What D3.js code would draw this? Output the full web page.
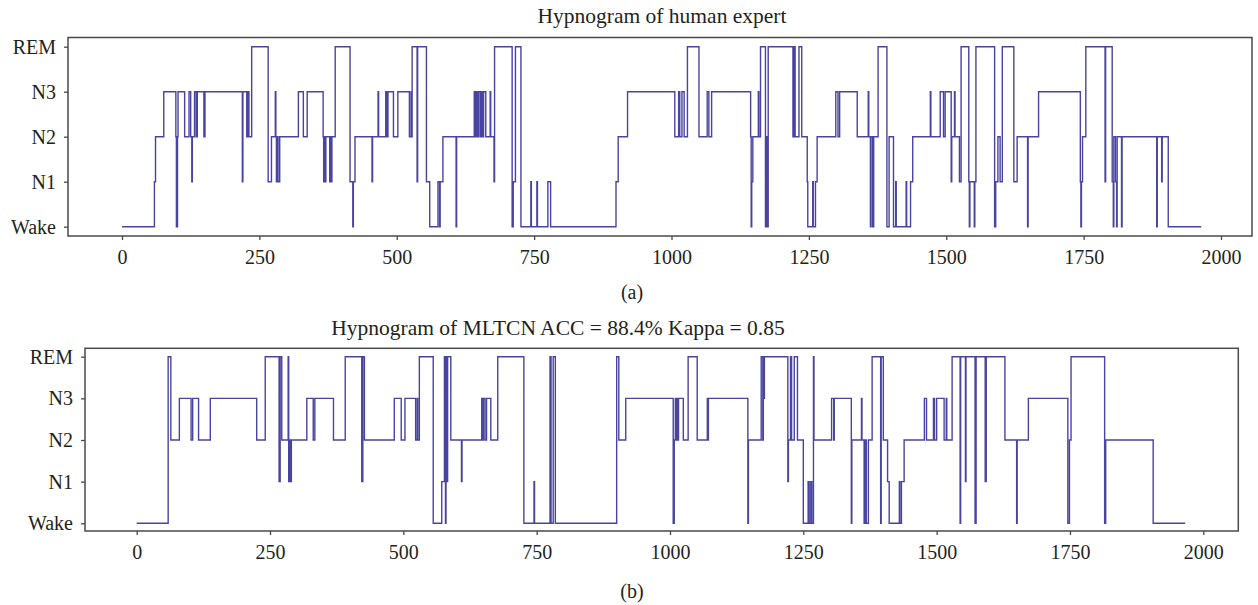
<!DOCTYPE html>
<html>
<head>
<meta charset="utf-8">
<script src="https://cdn.jsdelivr.net/npm/d3@7/dist/d3.min.js"></script>
<style>
  html, body { margin: 0; padding: 0; background: #ffffff; }
  svg { display: block; }
  text { font-family: "Liberation Serif", "Times New Roman", serif; fill: #231f20; }
</style>
</head>
<body>
<svg id="chart" width="1258" height="605"></svg>
<script>
// Sleep stage labels, bottom to top (code 0..4)
const stageLabels = ["Wake", "N1", "N2", "N3", "REM"];
// Epoch ticks on the x axis
const epochTicks = [0, 250, 500, 750, 1000, 1250, 1500, 1750, 2000];

// Expert scoring: epoch where each run starts, and its stage code
const expertStart = [
  0, 59, 61, 76, 98, 99, 101, 102, 114, 122, 125, 127, 128, 132, 135, 137, 149, 151,
  219, 220, 227, 229, 231, 236, 266, 272, 279, 280, 281, 283, 284, 287, 321, 330, 337,
  366, 367, 368, 369, 371, 378, 379, 381, 382, 388, 415, 420, 421, 424, 455, 456, 466,
  467, 480, 482, 484, 494, 502, 523, 526, 527, 528, 537, 538, 554, 560, 575, 578, 579,
  584, 608, 609, 641, 643, 645, 647, 649, 652, 654, 656, 658, 662, 670, 671, 677, 678,
  710, 712, 716, 726, 744, 745, 755, 756, 775, 780, 899, 903, 920, 1006, 1013, 1015,
  1019, 1023, 1029, 1050, 1065, 1068, 1073, 1144, 1145, 1146, 1148, 1158, 1159, 1162,
  1171, 1173, 1174, 1176, 1221, 1223, 1225, 1232, 1237, 1247, 1248, 1257, 1258, 1262,
  1265, 1299, 1303, 1306, 1338, 1358, 1359, 1362, 1363, 1366, 1368, 1376, 1392, 1396,
  1404, 1408, 1409, 1427, 1428, 1435, 1439, 1471, 1472, 1489, 1495, 1498, 1509, 1510,
  1515, 1516, 1524, 1527, 1541, 1542, 1543, 1551, 1552, 1554, 1588, 1590, 1594, 1598,
  1602, 1623, 1629, 1648, 1649, 1668, 1744, 1745, 1746, 1748, 1754, 1789, 1790, 1802,
  1804, 1805, 1808, 1810, 1811, 1819, 1820, 1883, 1884, 1892, 1893, 1904
];
const expertStage = [
  0, 1, 2, 3, 2, 0, 2, 3, 2, 3, 2, 1, 2, 3, 2, 3, 2, 3,
  1, 3, 2, 3, 2, 4, 1, 2, 3, 2, 1, 2, 1, 2, 3, 2, 3,
  2, 1, 2, 1, 2, 1, 2, 1, 2, 4, 1, 0, 1, 2, 1, 2, 3,
  2, 3, 2, 3, 2, 3, 2, 3, 2, 4, 1, 4, 1, 0, 1, 0, 1,
  2, 0, 2, 3, 2, 3, 2, 3, 2, 3, 2, 3, 2, 3, 2, 1, 4,
  0, 1, 4, 0, 1, 0, 1, 0, 1, 0, 1, 2, 3, 2, 3, 2,
  3, 2, 4, 2, 3, 2, 3, 2, 0, 1, 2, 3, 2, 4,
  0, 2, 0, 4, 2, 4, 2, 4, 2, 1, 0, 1, 0, 1,
  2, 3, 2, 3, 2, 3, 2, 0, 2, 0, 2, 4, 0, 2,
  0, 1, 0, 1, 0, 1, 2, 3, 2, 3, 2, 3, 1, 2,
  3, 2, 1, 4, 1, 0, 1, 0, 1, 4, 0, 1, 2, 1,
  4, 1, 2, 0, 2, 3, 1, 0, 1, 2, 4, 1, 4, 1,
  0, 2, 1, 0, 2, 0, 2, 0, 2, 1, 2, 0
];
const expertEnd = 1964;

// MLTCN scoring: epoch where each run starts, and its stage code
const mltcnStart = [
  0, 59, 64, 80, 102, 105, 116, 138, 225, 241, 267, 269, 272, 284, 285, 287, 288, 290,
  319, 331, 334, 369, 391, 422, 424, 427, 483, 496, 503, 523, 526, 527, 530, 556, 572,
  577, 579, 580, 581, 583, 589, 609, 610, 647, 648, 650, 653, 656, 664, 677, 726, 745,
  746, 775, 777, 781, 785, 900, 904, 917, 1006, 1008, 1010, 1011, 1012, 1014, 1016,
  1025, 1034, 1051, 1070, 1071, 1072, 1146, 1147, 1171, 1174, 1175, 1176, 1177, 1221,
  1222, 1226, 1228, 1233, 1239, 1250, 1259, 1261, 1264, 1266, 1269, 1270, 1303, 1307,
  1308, 1340, 1341, 1359, 1360, 1364, 1366, 1368, 1372, 1379, 1395, 1396, 1400, 1408,
  1411, 1430, 1431, 1434, 1439, 1477, 1481, 1494, 1496, 1500, 1514, 1518, 1519, 1529,
  1544, 1545, 1554, 1555, 1572, 1574, 1591, 1593, 1628, 1650, 1651, 1672, 1746, 1749,
  1752, 1815, 1817, 1906
];
const mltcnStage = [
  0, 4, 2, 3, 2, 3, 2, 3, 2, 4, 1, 4, 2, 4, 1, 2, 1, 2,
  3, 2, 3, 2, 4, 1, 4, 2, 3, 2, 3, 2, 3, 2, 4, 0, 1,
  4, 0, 4, 1, 4, 2, 1, 2, 3, 2, 3, 2, 3, 2, 4, 0, 1,
  0, 4, 0, 4, 0, 4, 2, 3, 0, 2, 3, 2, 3, 2, 3,
  2, 4, 2, 3, 2, 3, 0, 2, 4, 2, 4, 3, 4, 1,
  2, 4, 2, 4, 2, 0, 1, 0, 1, 0, 4, 2, 3, 2,
  3, 0, 2, 3, 2, 0, 2, 0, 2, 4, 0, 4, 2, 1,
  0, 1, 0, 1, 2, 3, 2, 3, 2, 3, 2, 3, 2, 4,
  0, 4, 1, 4, 0, 4, 1, 4, 2, 0, 2, 3, 0, 2,
  4, 0, 2, 0
];
const mltcnEnd = 1966;

const panels = [
  {
    title: "Hypnogram of human expert", titleX: 662, titleY: 23,
    caption: "(a)", captionY: 299,
    starts: expertStart, stages: expertStage, end: expertEnd,
    frame: { left: 68, right: 1252, top: 37.5, bottom: 236 },
    xRange: [122, 1221], yRange: [226.7, 46.7]
  },
  {
    title: "Hypnogram of MLTCN ACC = 88.4% Kappa = 0.85", titleX: 558, titleY: 335,
    caption: "(b)", captionY: 598,
    starts: mltcnStart, stages: mltcnStage, end: mltcnEnd,
    frame: { left: 85, right: 1238.3, top: 348.3, bottom: 531 },
    xRange: [136.7, 1203.3], yRange: [523.3, 356.7]
  }
];

const svg = d3.select("#chart");
const tickFont = 20;
const titleFont = 21.5;

panels.forEach(p => {
  const x = d3.scaleLinear().domain([0, 2000]).range(p.xRange);
  const y = d3.scaleLinear().domain([0, stageLabels.length - 1]).range(p.yRange);
  const f = p.frame;
  const g = svg.append("g");

  // Stage sequence as a step line, closed with the last epoch
  const pts = p.starts.map((s, i) => [s, p.stages[i]]);
  pts.push([p.end, p.stages[p.stages.length - 1]]);

  g.append("path")
    .datum(pts)
    .attr("fill", "none")
    .attr("stroke", "#3a3497")
    .attr("stroke-width", 1.4)
    .attr("stroke-opacity", 0.92)
    .attr("d", d3.line()
      .x(d => x(d[0]))
      .y(d => y(d[1]))
      .curve(d3.curveStepAfter));

  // Plot frame
  g.append("rect")
    .attr("x", f.left).attr("y", f.top)
    .attr("width", f.right - f.left).attr("height", f.bottom - f.top)
    .attr("fill", "none")
    .attr("stroke", "#4a4a4a")
    .attr("stroke-width", 1.5);

  // X axis
  const xAxis = g.append("g")
    .attr("transform", `translate(0,${f.bottom})`)
    .call(d3.axisBottom(x).tickValues(epochTicks).tickFormat(d3.format("d"))
      .tickSize(4).tickSizeOuter(0).tickPadding(10));
  xAxis.select(".domain").remove();
  xAxis.selectAll(".tick line").attr("stroke", "#4a4a4a").attr("stroke-width", 1.3);
  xAxis.selectAll(".tick text")
    .style("font-family", '"Liberation Serif", serif')
    .style("font-size", tickFont + "px").attr("fill", "#231f20");

  // Y axis with stage names
  const yAxis = g.append("g")
    .attr("transform", `translate(${f.left},0)`)
    .call(d3.axisLeft(y).tickValues(d3.range(stageLabels.length))
      .tickFormat(i => stageLabels[i]).tickSize(4).tickSizeOuter(0).tickPadding(8));
  yAxis.select(".domain").remove();
  yAxis.selectAll(".tick line").attr("stroke", "#4a4a4a").attr("stroke-width", 1.3);
  yAxis.selectAll(".tick text")
    .style("font-family", '"Liberation Serif", serif')
    .style("font-size", tickFont + "px").attr("fill", "#231f20");

  // Title and panel caption
  g.append("text")
    .attr("x", p.titleX).attr("y", p.titleY)
    .attr("text-anchor", "middle")
    .style("font-size", titleFont + "px")
    .text(p.title);

  g.append("text")
    .attr("x", 632).attr("y", p.captionY)
    .attr("text-anchor", "middle")
    .style("font-size", tickFont + "px")
    .text(p.caption);
});
</script>
</body>
</html>
